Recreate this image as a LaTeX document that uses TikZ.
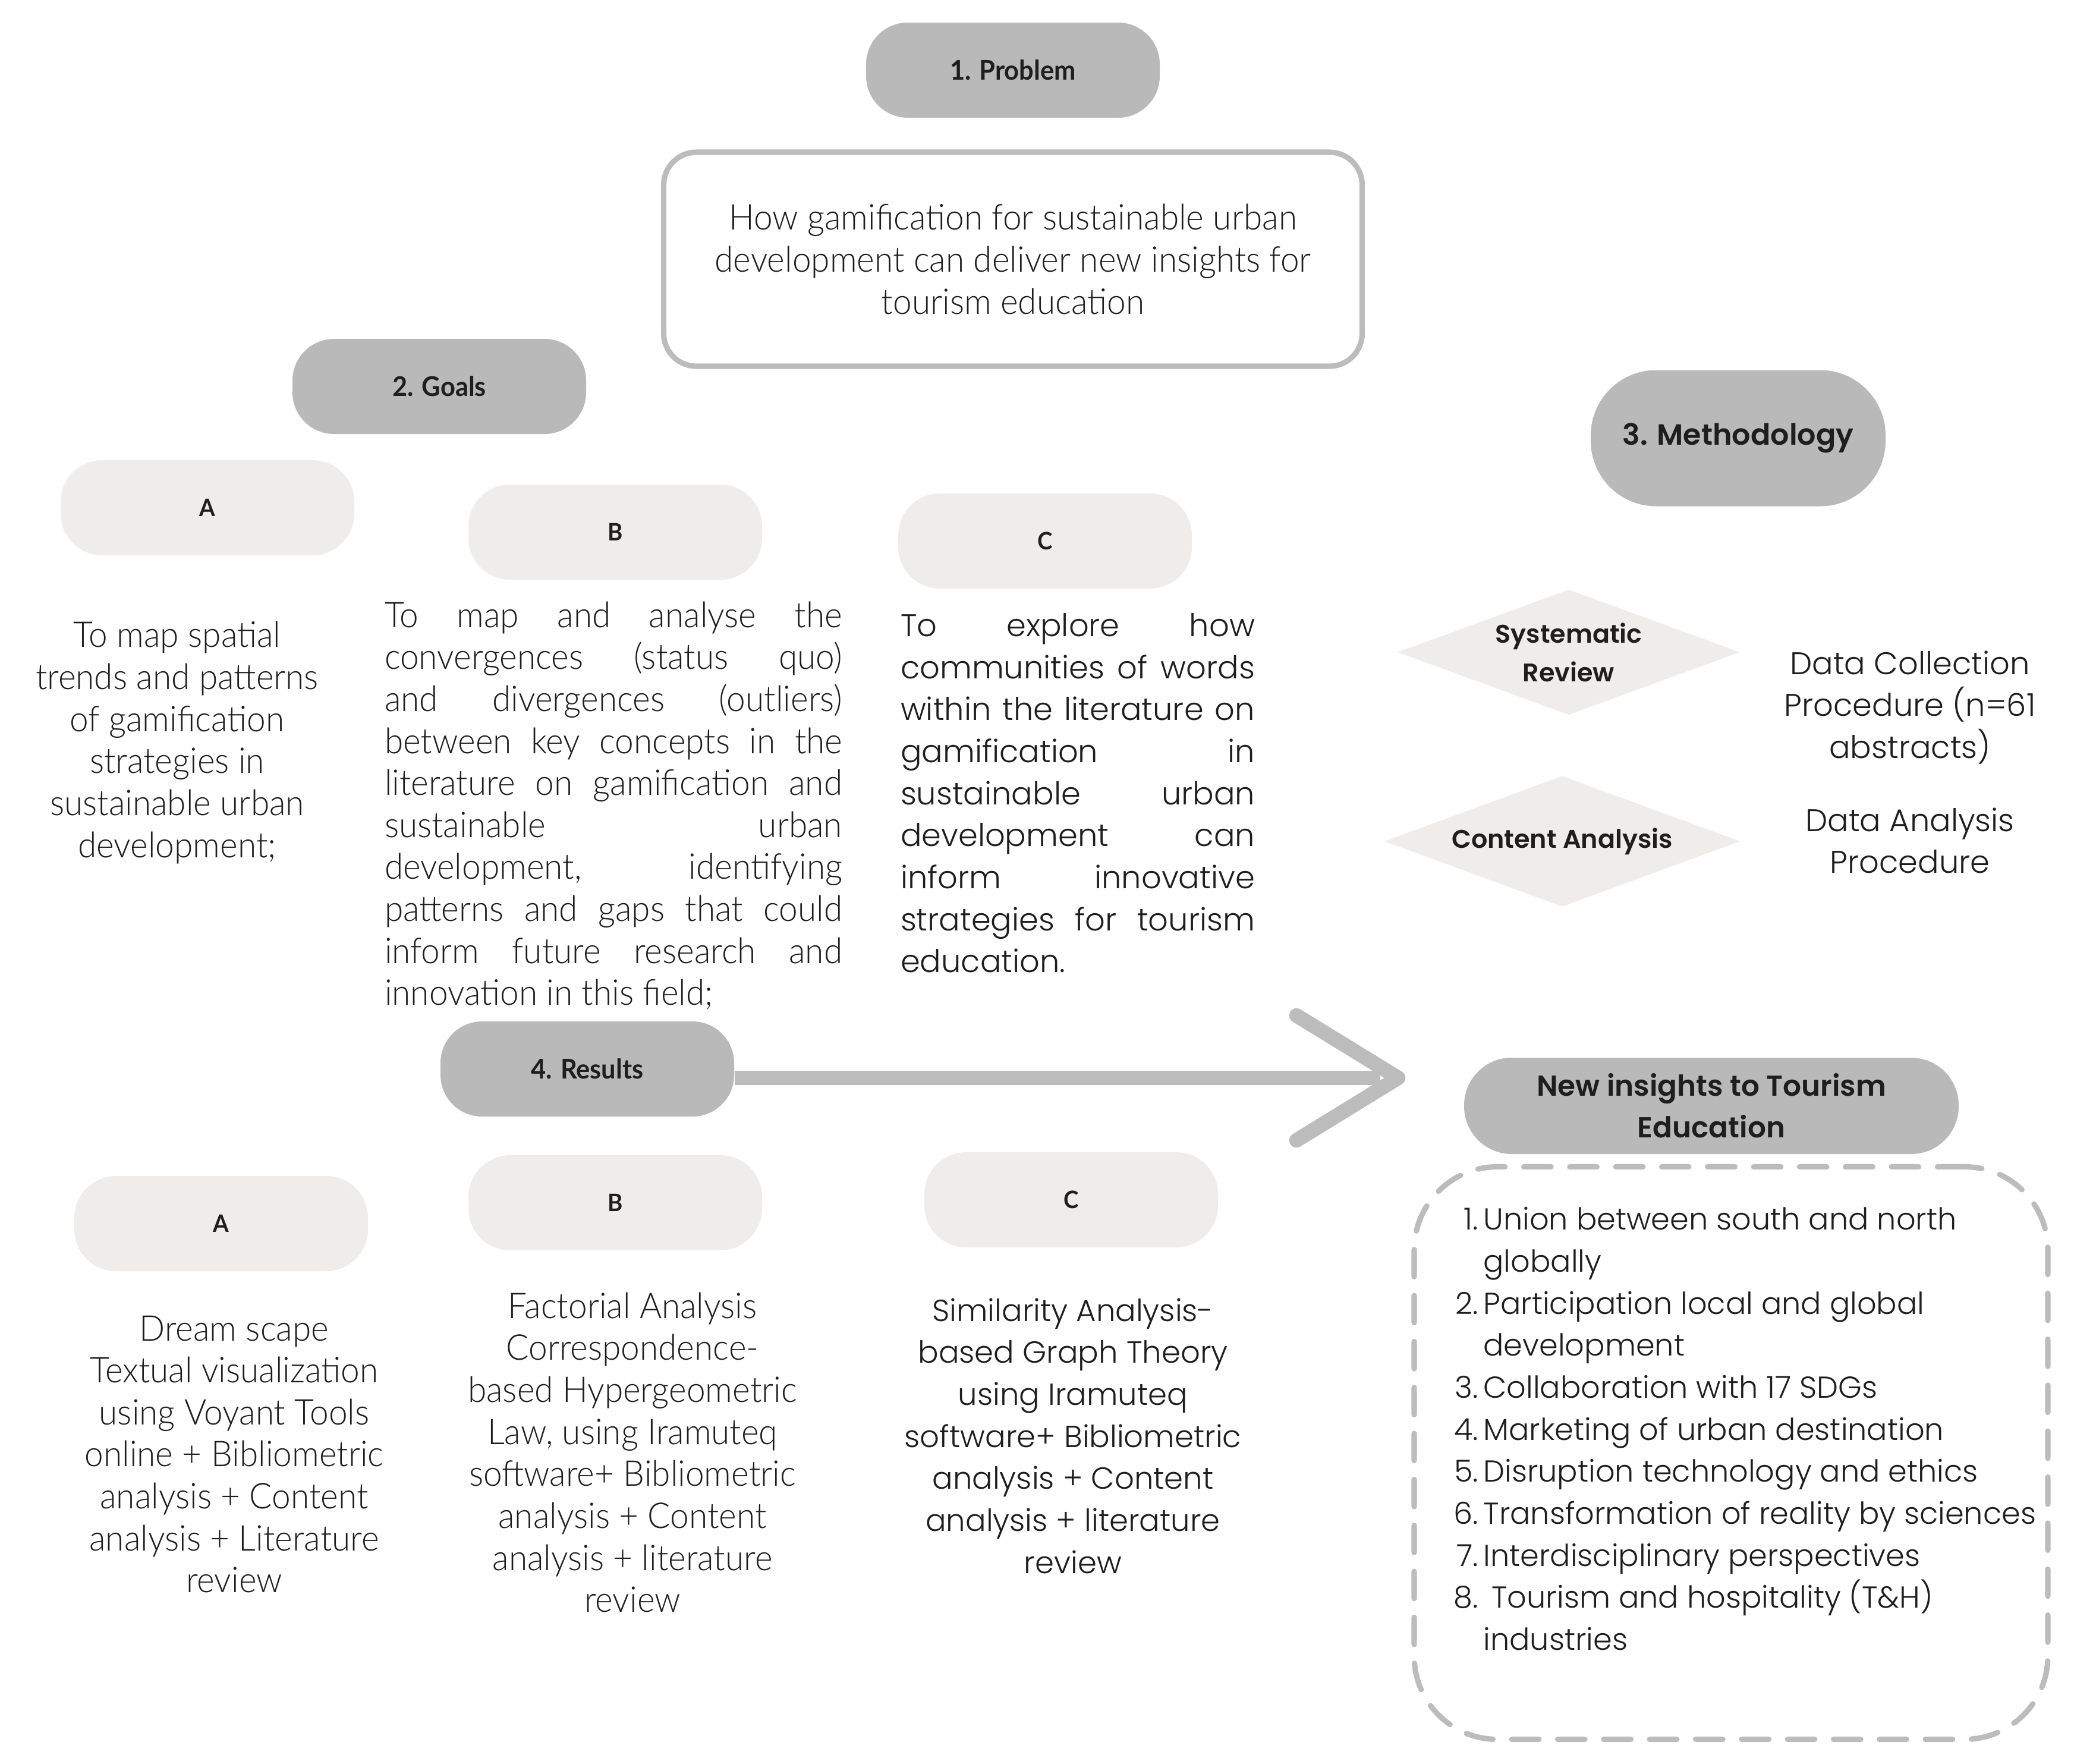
\documentclass[tikz,border=0pt]{standalone}
\usepackage{fontspec}
\setmainfont{Lato}
\newfontfamily\narrowfont[FakeStretch=0.95]{Lato Light}
\newfontfamily\narrowbold[FakeStretch=0.95]{Lato Bold}
\newfontfamily\roundfont{Poppins Light}
\newfontfamily\roundbold{Poppins SemiBold}
\usetikzlibrary{shapes.geometric,arrows.meta,positioning}

\definecolor{pillgrey}{HTML}{B9B9B9}
\definecolor{pilllight}{HTML}{EFEDEC}
\definecolor{linegrey}{HTML}{BCBCBC}
\definecolor{ink}{HTML}{1E1E1E}

\begin{document}
\begin{tikzpicture} [
    pill/.style={rounded corners=0.7cm, fill=pillgrey, inner sep=0pt,
        minimum width=4.94cm, minimum height=1.6cm, text=ink,
        font=\narrowbold\fontsize{13}{16}\selectfont},
    letterpill/.style={pill, fill=pilllight, font=\narrowbold\fontsize{11.5}{14}\selectfont},
    bodytext/.style={inner sep=0pt, text=ink, align=center,
        font=\narrowfont\fontsize{17}{20.1}\selectfont},
    roundtext/.style={inner sep=0pt, text=ink, align=center,
        font=\roundfont\fontsize{15}{20.1}\selectfont},
    rhomb/.style={diamond, fill=pilllight, inner sep=0pt, aspect=2.7, text=ink,
        align=center, font=\roundbold\fontsize{12.2}{18.5}\selectfont},
    arrowline/.style={line width=7pt, draw=linegrey},
  ]
    \useasboundingbox (0,0) rectangle (34.89,-29.67);

    % problem
    \node[pill] (problem) at (17.04,-1.18) {1. Problem};
    \node[bodytext, draw=linegrey, line width=2.6pt, rounded corners=0.55cm,
        minimum width=11.75cm, minimum height=3.6cm] (question) at (17.04,-4.36)
        {How gamification for sustainable urban\\development can deliver new insights for\\tourism education};

    % goals
    \node[pill] (goals) at (7.39,-6.50) {2. Goals};
    \node[letterpill] (goalA) at (3.49,-8.54) {A};
    \node[letterpill] (goalB) at (10.35,-8.95) {B};
    \node[letterpill] (goalC) at (17.58,-9.10) {C};

    \node[bodytext] (goalAtext) at (2.98,-12.49)
        {To map spatial\\trends and patterns\\of gamification\\strategies in\\sustainable urban\\development;};
    \node[bodytext, text width=7.70cm, align=justify] (goalBtext) at (10.32,-13.55)
        {To map and analyse the\linebreak convergences (status quo)\linebreak
         and divergences (outliers)\linebreak between key concepts in the\linebreak
         literature on gamification and\linebreak sustainable urban\linebreak
         development, identifying\linebreak patterns and gaps that could\linebreak
         inform future research and\linebreak innovation in this field;};
    \node[roundtext, text width=5.96cm, align=justify] (goalCtext) at (18.13,-13.34)
        {To explore how\linebreak communities of words\linebreak within the literature on\linebreak
         gamification in\linebreak sustainable urban\linebreak development can\linebreak
         inform innovative\linebreak strategies for tourism\linebreak education.};

    % methodology
    \node[pill, minimum width=4.96cm, minimum height=2.29cm, rounded corners=1.1cm,
        font=\roundbold\fontsize{14}{17}\selectfont] (method) at (29.24,-7.37) {3. Methodology};
    \node[rhomb, minimum width=5.76cm, minimum height=2.11cm] (review) at (26.39,-10.97) {Systematic\\Review};
    \node[rhomb, minimum width=5.99cm, minimum height=2.20cm] (content) at (26.28,-14.15) {Content Analysis};
    \node[roundtext] (collect) at (32.13,-11.90) {Data Collection\\Procedure (n=61\\abstracts)};
    \node[roundtext] (analyse) at (32.13,-14.14) {Data Analysis\\Procedure};

    % results
    \node[pill] (results) at (9.88,-17.98) {4. Results};
    \node[letterpill] (resA) at (3.72,-20.58) {A};
    \node[letterpill] (resB) at (10.35,-20.23) {B};
    \node[letterpill] (resC) at (18.02,-20.18) {C};

    \node[bodytext] (resAtext) at (3.94,-24.46)
        {Dream scape\\Textual visualization\\using Voyant Tools\\online + Bibliometric\\analysis + Content\\analysis + Literature\\review};
    \node[bodytext] (resBtext) at (10.64,-24.43)
        {Factorial Analysis\\Correspondence-\\based Hypergeometric\\Law, using Iramuteq\\software+ Bibliometric\\analysis + Content\\analysis + literature\\review};
    \node[roundtext, font=\roundfont\fontsize{14.6}{20.1}\selectfont] (resCtext) at (18.05,-24.15)
        {Similarity Analysis-\\based Graph Theory\\using Iramuteq\\software+ Bibliometric\\analysis + Content\\analysis + literature\\review};

    % new insights
    \node[pill, minimum width=8.32cm, minimum height=1.62cm, rounded corners=0.8cm, align=center,
        font=\roundbold\fontsize{13.8}{20}\selectfont] (insights) at (28.79,-18.60)
        {New insights to Tourism\\Education};
    \node[draw=linegrey, line width=2.6pt, dash pattern=on 13pt off 9pt, line cap=round,
        rounded corners=1.4cm, minimum width=10.66cm, minimum height=9.63cm] (listbox) at (29.12,-24.44) {};
    \node[roundtext, align=left, anchor=west, font=\roundfont\fontsize{14.5}{20.1}\selectfont]
        (list) at (24.45,-24.08) {%
        \begin{tabular}{@{}r@{\,}l@{}}
        1. & Union between south and north\\
           & globally\\
        2. & Participation local and global\\
           & development\\
        3. & Collaboration with 17 SDGs\\
        4. & Marketing of urban destination\\
        5. & Disruption technology and ethics\\
        6. & Transformation of reality by sciences\\
        7. & Interdisciplinary perspectives\\
        8. & \ Tourism and hospitality (T\&H)\\
           & industries
        \end{tabular}};

    % arrow
    \coordinate (tip) at (23.52,-18.13);
    \draw[arrowline] (results.east |- tip) -- ([xshift=-0.3cm]tip);
    \draw[arrowline, line cap=round, line join=round]
        ([shift={(-1.71,1.05)}]tip) -- (tip) -- ([shift={(-1.71,-1.05)}]tip);
\end{tikzpicture}
\end{document}
